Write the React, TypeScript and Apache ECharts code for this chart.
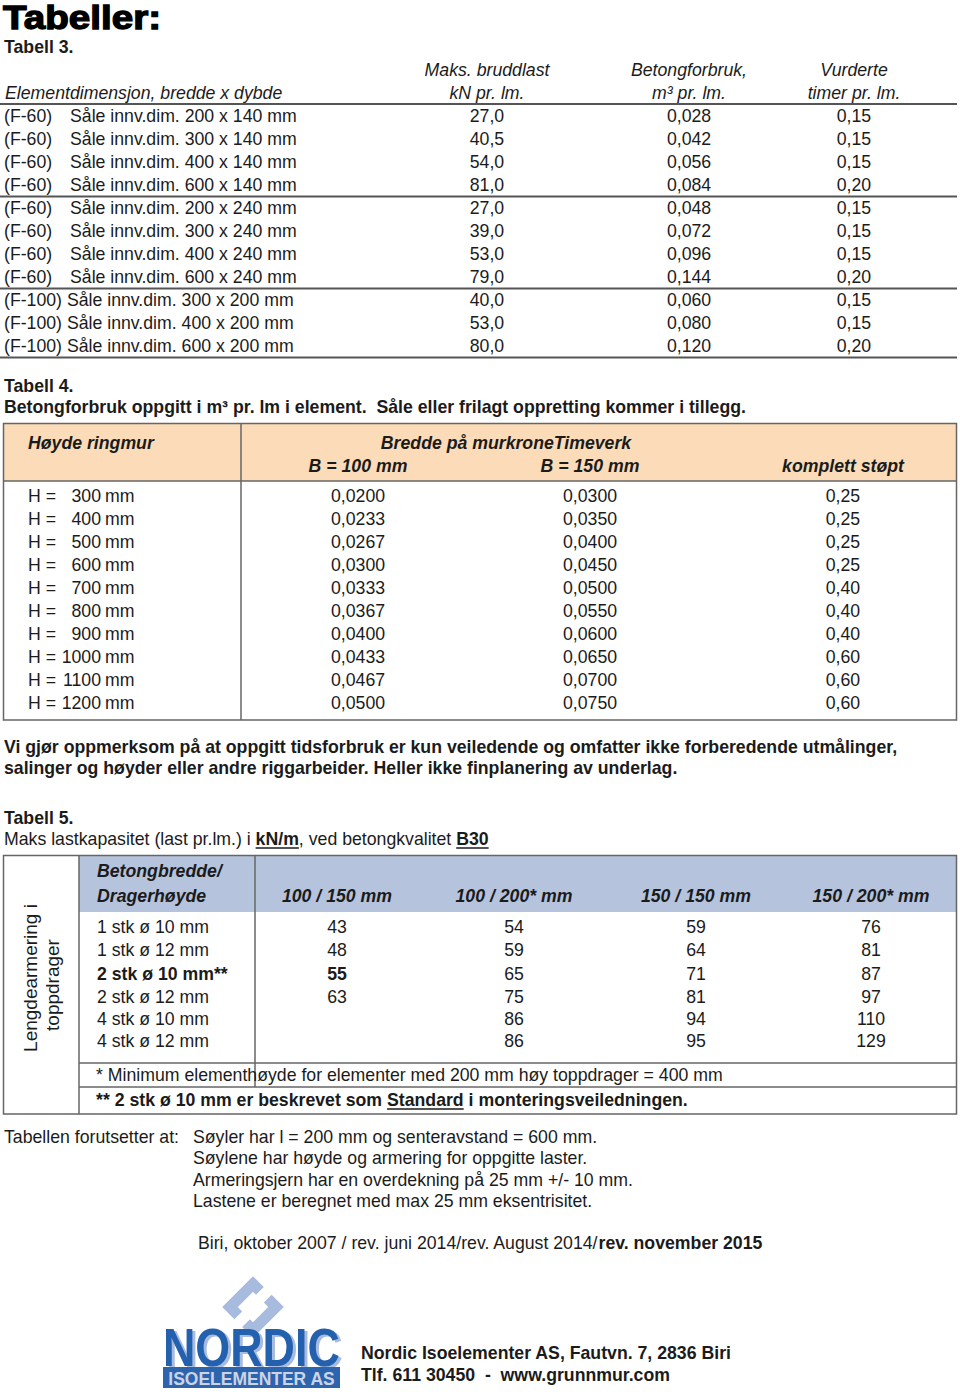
import React, { useEffect, useRef } from 'react';
import * as echarts from 'echarts';

const FONT = '"Liberation Sans", Arial, Helvetica, sans-serif';
const FS = 17.7;

// ---------- Tabell 3 ----------
const t3Codes = ['(F-60)', '(F-60)', '(F-60)', '(F-60)', '(F-60)', '(F-60)', '(F-60)', '(F-60)', '(F-100)', '(F-100)', '(F-100)'];
const t3Dims = [
  'Såle innv.dim. 200 x 140 mm', 'Såle innv.dim. 300 x 140 mm', 'Såle innv.dim. 400 x 140 mm', 'Såle innv.dim. 600 x 140 mm',
  'Såle innv.dim. 200 x 240 mm', 'Såle innv.dim. 300 x 240 mm', 'Såle innv.dim. 400 x 240 mm', 'Såle innv.dim. 600 x 240 mm',
  'Såle innv.dim. 300 x 200 mm', 'Såle innv.dim. 400 x 200 mm', 'Såle innv.dim. 600 x 200 mm',
];
const t3Load = [27.0, 40.5, 54.0, 81.0, 27.0, 39.0, 53.0, 79.0, 40.0, 53.0, 80.0];
const t3Concrete = [0.028, 0.042, 0.056, 0.084, 0.048, 0.072, 0.096, 0.144, 0.060, 0.080, 0.120];
const t3Hours = [0.15, 0.15, 0.15, 0.20, 0.15, 0.15, 0.15, 0.20, 0.15, 0.15, 0.20];
const t3GroupEnds = [3, 7, 10];

// ---------- Tabell 4 ----------
const t4Heights = [300, 400, 500, 600, 700, 800, 900, 1000, 1100, 1200];
const t4B100 = [0.02, 0.0233, 0.0267, 0.03, 0.0333, 0.0367, 0.04, 0.0433, 0.0467, 0.05];
const t4B150 = [0.03, 0.035, 0.04, 0.045, 0.05, 0.055, 0.06, 0.065, 0.07, 0.075];
const t4Full = [0.25, 0.25, 0.25, 0.25, 0.4, 0.4, 0.4, 0.6, 0.6, 0.6];

// ---------- Tabell 5 ----------
const t5Reinf = ['1 stk ø 10 mm', '1 stk ø 12 mm', '2 stk ø 10 mm**', '2 stk ø 12 mm', '4 stk ø 10 mm', '4 stk ø 12 mm'];
const t5Cols = ['100 / 150 mm', '100 / 200* mm', '150 / 150 mm', '150 / 200* mm'];
const t5C1: (number | null)[] = [43, 48, 55, 63, null, null];
const t5C2: (number | null)[] = [54, 59, 65, 75, 86, 86];
const t5C3: (number | null)[] = [59, 64, 71, 81, 94, 95];
const t5C4: (number | null)[] = [76, 81, 87, 97, 110, 129];
const t5BoldRow = 2;

const conditions = [
  'Søyler har l = 200 mm og senteravstand = 600 mm.',
  'Søylene har høyde og armering for oppgitte laster.',
  'Armeringsjern har en overdekning på 25 mm +/- 10 mm.',
  'Lastene er beregnet med max 25 mm eksentrisitet.',
];

const fmt = (v: number, d: number) => v.toFixed(d).replace('.', ',');

let measureCtx: CanvasRenderingContext2D | null = null;
function tw(text: string, size = FS, weight = 'normal', style = 'normal') {
  if (!measureCtx) measureCtx = document.createElement('canvas').getContext('2d');
  measureCtx!.font = `${style} ${weight} ${size}px ${FONT}`;
  return measureCtx!.measureText(text).width;
}

type TOpts = { size?: number; weight?: string; italic?: boolean; color?: string; align?: string; rotation?: number; scaleX?: number };
function T(x: number, y: number, text: string, o: TOpts = {}) {
  return {
    type: 'text',
    x,
    y,
    rotation: o.rotation || 0,
    scaleX: o.scaleX || 1,
    silent: true,
    style: {
      text,
      fontSize: o.size || FS,
      fontFamily: FONT,
      fontWeight: o.weight || 'normal',
      fontStyle: o.italic ? 'italic' : 'normal',
      fill: o.color || '#1b1b1b',
      align: o.align || 'left',
      verticalAlign: 'middle',
    },
  };
}
function L(x1: number, y1: number, x2: number, y2: number, stroke = '#555', lineWidth = 1.5) {
  return { type: 'line', silent: true, shape: { x1, y1, x2, y2 }, style: { stroke, lineWidth } };
}
function R(x: number, y: number, width: number, height: number, fill: string, stroke?: string, lineWidth = 1.5) {
  return { type: 'rect', silent: true, shape: { x, y, width, height }, style: { fill, stroke: stroke || 'none', lineWidth } };
}

function buildElements() {
  const fills: any[] = [];
  const lines: any[] = [];
  const texts: any[] = [];

  // Title
  texts.push({
    type: 'text', x: 3, y: 18, scaleX: 1.17, silent: true,
    style: { text: 'Tabeller:', fontSize: 33, fontFamily: FONT, fontWeight: 'bold', fill: '#000', stroke: '#000', lineWidth: 1.3, align: 'left', verticalAlign: 'middle' },
  });

  // ---- Tabell 3 ----
  texts.push(T(4, 47, 'Tabell 3.', { weight: 'bold' }));
  const c3 = [487, 689, 854];
  texts.push(T(c3[0], 70, 'Maks. bruddlast', { italic: true, align: 'center' }));
  texts.push(T(c3[1], 70, 'Betongforbruk,', { italic: true, align: 'center' }));
  texts.push(T(c3[2], 70, 'Vurderte', { italic: true, align: 'center' }));
  texts.push(T(5, 93, 'Elementdimensjon, bredde x dybde', { italic: true }));
  texts.push(T(c3[0], 93, 'kN pr. lm.', { italic: true, align: 'center' }));
  texts.push(T(c3[1], 93, 'm³ pr. lm.', { italic: true, align: 'center' }));
  texts.push(T(c3[2], 93, 'timer pr. lm.', { italic: true, align: 'center' }));
  lines.push(L(0, 104, 957, 104, '#555', 2));
  const rowH = 23;
  t3Codes.forEach((code, i) => {
    const y = 116 + i * rowH;
    texts.push(T(4, y, code));
    const dx = code === '(F-60)' ? 70 : 4 + tw(code + ' ');
    texts.push(T(dx, y, t3Dims[i]));
    texts.push(T(c3[0], y, fmt(t3Load[i], 1), { align: 'center' }));
    texts.push(T(c3[1], y, fmt(t3Concrete[i], 3), { align: 'center' }));
    texts.push(T(c3[2], y, fmt(t3Hours[i], 2), { align: 'center' }));
  });
  t3GroupEnds.forEach((r) => {
    const y = 116 + r * rowH + 11.5;
    lines.push(L(0, y, 957, y, '#555', 2));
  });

  // ---- Tabell 4 ----
  texts.push(T(4, 386, 'Tabell 4.', { weight: 'bold' }));
  texts.push(T(4, 407, 'Betongforbruk oppgitt i m³ pr. lm i element.  Såle eller frilagt oppretting kommer i tillegg.', { weight: 'bold' }));
  fills.push(R(3.5, 423.5, 953, 57.5, '#fcdcb8'));
  lines.push(L(3.5, 481, 956.5, 481, '#666', 1.5));
  lines.push(L(241, 423.5, 241, 720, '#666', 1.5));
  lines.push(R(3.5, 423.5, 953, 296.5, 'none', '#666', 1.5));
  texts.push(T(28, 443, 'Høyde ringmur', { weight: 'bold', italic: true }));
  texts.push(T(506, 443, 'Bredde på murkroneTimeverk', { weight: 'bold', italic: true, align: 'center' }));
  const c4 = [358, 590, 843];
  texts.push(T(c4[0], 466, 'B = 100 mm', { weight: 'bold', italic: true, align: 'center' }));
  texts.push(T(c4[1], 466, 'B = 150 mm', { weight: 'bold', italic: true, align: 'center' }));
  texts.push(T(c4[2], 466, 'komplett støpt', { weight: 'bold', italic: true, align: 'center' }));
  t4Heights.forEach((h, i) => {
    const y = 496 + i * rowH;
    texts.push(T(28, y, 'H ='));
    texts.push(T(101, y, String(h), { align: 'right' }));
    texts.push(T(105, y, 'mm'));
    texts.push(T(c4[0], y, fmt(t4B100[i], 4), { align: 'center' }));
    texts.push(T(c4[1], y, fmt(t4B150[i], 4), { align: 'center' }));
    texts.push(T(c4[2], y, fmt(t4Full[i], 2), { align: 'center' }));
  });

  texts.push(T(4, 747, 'Vi gjør oppmerksom på at oppgitt tidsforbruk er kun veiledende og omfatter ikke forberedende utmålinger,', { weight: 'bold' }));
  texts.push(T(4, 768, 'salinger og høyder eller andre riggarbeider. Heller ikke finplanering av underlag.', { weight: 'bold' }));

  // ---- Tabell 5 ----
  texts.push(T(4, 818, 'Tabell 5.', { weight: 'bold' }));
  {
    const segs: [string, boolean][] = [
      ['Maks lastkapasitet (last pr.lm.) i ', false],
      ['kN/m', true],
      [', ved betongkvalitet ', false],
      ['B30', true],
    ];
    let x = 4;
    segs.forEach(([s, b]) => {
      const w = tw(s, FS, b ? 'bold' : 'normal');
      texts.push(T(x, 839, s, { weight: b ? 'bold' : 'normal' }));
      if (b) lines.push(L(x, 848, x + w, 848, '#1b1b1b', 1.5));
      x += w;
    });
  }
  fills.push(R(79, 855.5, 877.5, 56.5, '#b5c3dd'));
  lines.push(R(3.5, 855.5, 953, 258.5, 'none', '#666', 1.5));
  lines.push(L(79, 855.5, 79, 1114, '#666', 1.5));
  lines.push(L(255, 855.5, 255, 1087, '#666', 1.5));
  lines.push(L(79, 1063, 956.5, 1063, '#666', 1.5));
  lines.push(L(79, 1087, 956.5, 1087, '#666', 1.5));
  texts.push(T(30, 978, 'Lengdearmering i', { size: 19, align: 'center', rotation: Math.PI / 2 }));
  texts.push(T(52, 985, 'toppdrager', { size: 19, align: 'center', rotation: Math.PI / 2 }));
  texts.push(T(97, 871, 'Betongbredde/', { weight: 'bold', italic: true }));
  texts.push(T(97, 896, 'Dragerhøyde', { weight: 'bold', italic: true }));
  const c5 = [337, 514, 696, 871];
  t5Cols.forEach((c, j) => texts.push(T(c5[j], 896, c, { weight: 'bold', italic: true, align: 'center' })));
  const t5Rows = [927, 950, 974, 997, 1019, 1041];
  const cols = [t5C1, t5C2, t5C3, t5C4];
  t5Reinf.forEach((r, i) => {
    const y = t5Rows[i];
    const b = i === t5BoldRow ? 'bold' : 'normal';
    texts.push(T(97, y, r, { weight: b }));
    cols.forEach((col, j) => {
      const v = col[i];
      if (v !== null) texts.push(T(c5[j], y, String(v), { weight: j === 0 ? b : 'normal', align: 'center' }));
    });
  });
  texts.push(T(96, 1075, '* Minimum elementhøyde for elementer med 200 mm høy toppdrager = 400 mm'));
  {
    const segs: [string, boolean][] = [
      ['** 2 stk ø 10 mm er beskrevet som ', false],
      ['Standard', true],
      [' i monteringsveiledningen.', false],
    ];
    let x = 96;
    segs.forEach(([s, u]) => {
      const w = tw(s, FS, 'bold');
      texts.push(T(x, 1100, s, { weight: 'bold' }));
      if (u) lines.push(L(x, 1109, x + w, 1109, '#1b1b1b', 1.5));
      x += w;
    });
  }

  texts.push(T(4, 1137, 'Tabellen forutsetter at:'));
  conditions.forEach((c, i) => texts.push(T(193, 1137 + i * 21.3, c)));
  {
    const a = 'Biri, oktober 2007 / rev. juni 2014/rev. August 2014/';
    texts.push(T(198, 1243, a));
    texts.push(T(198 + tw(a), 1243, 'rev. november 2015', { weight: 'bold' }));
  }

  // ---- Logo ----
  const lb = '#a7bbdf';
  const cx = 253, cy = 1307, rr = 23;
  const P = (t: number, a: number[], b: number[]) => [a[0] + (b[0] - a[0]) * t, a[1] + (b[1] - a[1]) * t];
  const top = [cx, cy - rr], left = [cx - rr, cy], bot = [cx, cy + rr], right = [cx + rr, cy];
  fills.push({ type: 'polyline', silent: true, shape: { points: [P(0.3, top, right), top, left, P(0.36, left, bot)] }, style: { stroke: lb, lineWidth: 11, fill: 'none', lineJoin: 'miter', lineCap: 'butt' } });
  fills.push({ type: 'polyline', silent: true, shape: { points: [P(0.3, bot, left), bot, right, P(0.36, right, top)] }, style: { stroke: lb, lineWidth: 11, fill: 'none', lineJoin: 'miter', lineCap: 'butt' } });
  texts.push({
    type: 'text', x: 166, y: 1350, scaleX: 0.83, silent: true,
    style: { text: 'NORDIC', fontSize: 54, fontFamily: FONT, fontWeight: 'bold', fill: lb, align: 'left', verticalAlign: 'middle' },
  });
  texts.push({
    type: 'text', x: 163, y: 1348, scaleX: 0.83, silent: true,
    style: { text: 'NORDIC', fontSize: 54, fontFamily: FONT, fontWeight: 'bold', fill: '#2360ad', align: 'left', verticalAlign: 'middle' },
  });
  texts.push(R(163, 1367, 177, 21, '#2d64ae'));
  texts.push({
    type: 'text', x: 251.5, y: 1378, scaleX: 0.92, silent: true,
    style: { text: 'ISOELEMENTER AS', fontSize: 19, fontFamily: FONT, fontWeight: 'bold', fill: '#ccd4e4', align: 'center', verticalAlign: 'middle' },
  });
  texts.push(T(361, 1353, 'Nordic Isoelementer AS, Fautvn. 7, 2836 Biri', { weight: 'bold' }));
  texts.push(T(361, 1375, 'Tlf. 611 30450  -  www.grunnmur.com', { weight: 'bold' }));

  return [...fills, ...lines, ...texts];
}

export default function App() {
  const ref = useRef<HTMLDivElement>(null);
  useEffect(() => {
    document.body.style.margin = '0';
    if (!ref.current) return;
    const chart = echarts.init(ref.current, null, { renderer: 'svg' });
    chart.setOption({
      animation: false,
      backgroundColor: '#ffffff',
      graphic: { elements: buildElements() },
    });
    return () => chart.dispose();
  }, []);
  return <div ref={ref} style={{ width: 960, height: 1392 }} />;
}
